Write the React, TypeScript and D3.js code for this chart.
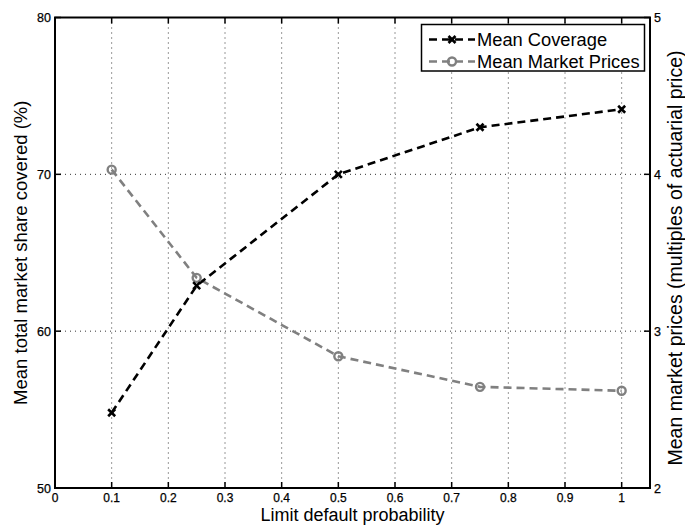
import React from "react";
import * as d3 from "d3";

const xValues = [0.1, 0.25, 0.5, 0.75, 1.0];
const coverage = [54.8, 62.9, 70.0, 73.0, 74.15];
const prices = [4.03, 3.34, 2.84, 2.645, 2.62];
const xTicks = [0, 0.1, 0.2, 0.3, 0.4, 0.5, 0.6, 0.7, 0.8, 0.9, 1];
const leftTicks = [50, 60, 70, 80];
const rightTicks = [2, 3, 4, 5];
const seriesNames = ["Mean Coverage", "Mean Market Prices"];

const W = 685, H = 525;
const L = 55, R = 650, T = 17.5, B = 488;
const FONT = "'Liberation Sans', Arial, Helvetica, sans-serif";

export default function App() {
  const x = d3.scaleLinear().domain([0, 1.05]).range([L, R]);
  const yL = d3.scaleLinear().domain([50, 80]).range([B, T]);
  const yR = d3.scaleLinear().domain([2, 5]).range([B, T]);

  const covLine = d3.line<number>().x((_, i) => x(xValues[i])).y((d) => yL(d));
  const priceLine = d3.line<number>().x((_, i) => x(xValues[i])).y((d) => yR(d));

  const xMark = (cx: number, cy: number, color: string, key: string) => (
    <g key={key} stroke={color} strokeWidth={2.6}>
      <line x1={cx - 3.5} y1={cy - 3.5} x2={cx + 3.5} y2={cy + 3.5} />
      <line x1={cx - 3.5} y1={cy + 3.5} x2={cx + 3.5} y2={cy - 3.5} />
    </g>
  );
  const oMark = (cx: number, cy: number, color: string, key: string) => (
    <circle key={key} cx={cx} cy={cy} r={4} fill="none" stroke={color} strokeWidth={2.4} />
  );

  const grey = "#808080";
  const dash = "8,5";
  const tick = 6;

  return (
    <svg width={W} height={H} style={{ position: "absolute", left: 0, top: 0, background: "#fff" }} fontFamily={FONT}>
      <rect x={0} y={0} width={W} height={H} fill="#fff" />
      {/* grid */}
      <g stroke="#333" strokeWidth={1} strokeDasharray="1,4">
        {xTicks.filter((t) => t > 0).map((t) => (
          <line key={"gx" + t} x1={x(t)} x2={x(t)} y1={T} y2={B} />
        ))}
        {leftTicks.filter((t) => t > 50 && t < 80).map((t) => (
          <line key={"gy" + t} x1={L} x2={R} y1={yL(t)} y2={yL(t)} />
        ))}
      </g>
      {/* series */}
      <path d={priceLine(prices) || ""} fill="none" stroke={grey} strokeWidth={2.6} strokeDasharray={dash} />
      <path d={covLine(coverage) || ""} fill="none" stroke="#000" strokeWidth={2.6} strokeDasharray={dash} />
      {prices.map((v, i) => oMark(x(xValues[i]), yR(v), grey, "p" + i))}
      {coverage.map((v, i) => xMark(x(xValues[i]), yL(v), "#000", "c" + i))}
      {/* ticks */}
      <g stroke="#000" strokeWidth={1.5}>
        {xTicks.map((t) => (
          <g key={"tx" + t}>
            <line x1={x(t)} x2={x(t)} y1={B} y2={B - tick} />
            <line x1={x(t)} x2={x(t)} y1={T} y2={T + tick} />
          </g>
        ))}
        {leftTicks.map((t) => (
          <line key={"tl" + t} x1={L} x2={L + tick} y1={yL(t)} y2={yL(t)} />
        ))}
        {rightTicks.map((t) => (
          <line key={"tr" + t} x1={R} x2={R - tick} y1={yR(t)} y2={yR(t)} />
        ))}
      </g>
      {/* frame */}
      <rect x={L} y={T} width={R - L} height={B - T} fill="none" stroke="#000" strokeWidth={2} />
      {/* tick labels */}
      <g fontSize={12.5} fill="#000" stroke="#000" strokeWidth={0.25}>
        {xTicks.map((t) => (
          <text key={"lx" + t} x={x(t)} y={501.5} textAnchor="middle" fontSize={12}>{String(t)}</text>
        ))}
        {leftTicks.map((t) => (
          <text key={"ll" + t} x={L - 4} y={yL(t) + 4.5} textAnchor="end">{t}</text>
        ))}
        {rightTicks.map((t) => (
          <text key={"lr" + t} x={R + 4} y={yR(t) + 4.5} textAnchor="start">{t}</text>
        ))}
      </g>
      {/* axis labels */}
      <text x={(L + R) / 2} y={520.5} textAnchor="middle" fontSize={18}>Limit default probability</text>
      <text transform={`translate(27,${(T + B) / 2}) rotate(-90)`} textAnchor="middle" fontSize={18.5}>
        Mean total market share covered (%)
      </text>
      <text transform={`translate(682,258) rotate(-90)`} textAnchor="middle" fontSize={19.5}>
        Mean market prices (multiples of actuarial price)
      </text>
      {/* legend */}
      <g>
        <rect x={421.5} y={24.5} width={223} height={46.5} fill="#fff" stroke="#000" strokeWidth={1.5} />
        <line x1={429} x2={475} y1={39.5} y2={39.5} stroke="#000" strokeWidth={2.6} strokeDasharray={dash} />
        {xMark(452, 39.5, "#000", "lg1")}
        <text x={477} y={46} fontSize={18.3}>{seriesNames[0]}</text>
        <line x1={429} x2={475} y1={61.5} y2={61.5} stroke={grey} strokeWidth={2.6} strokeDasharray={dash} />
        {oMark(452, 61.5, grey, "lg2")}
        <text x={477} y={68} fontSize={18.3}>{seriesNames[1]}</text>
      </g>
    </svg>
  );
}
